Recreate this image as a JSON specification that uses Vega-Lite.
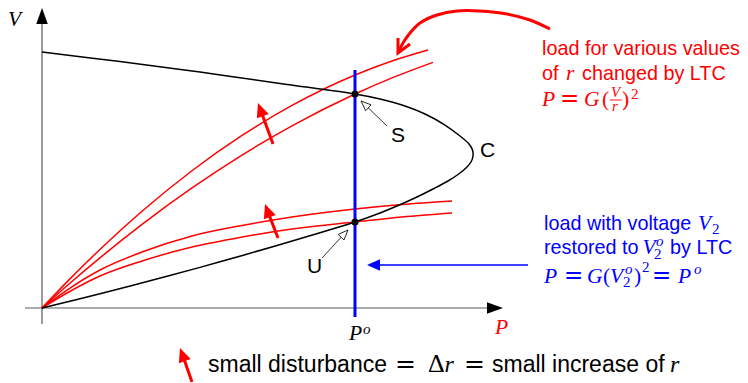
{
  "$schema": "https://vega.github.io/schema/vega-lite/v6.json",
  "width": 748,
  "height": 383,
  "autosize": "none",
  "padding": 0,
  "background": "white",
  "config": {"view": {"stroke": null}},
  "datasets": {
    "pv": [
      {"curve": "C", "tone": "ink", "k": 0, "P": 0, "V": 1},
      {"curve": "C", "tone": "ink", "k": 1, "P": 0.2492, "V": 0.9625},
      {"curve": "C", "tone": "ink", "k": 2, "P": 0.5048, "V": 0.9215},
      {"curve": "C", "tone": "ink", "k": 3, "P": 0.7604, "V": 0.877},
      {"curve": "C", "tone": "ink", "k": 4, "P": 1, "V": 0.8359},
      {"curve": "C", "tone": "ink", "k": 5, "P": 1.0799, "V": 0.8164},
      {"curve": "C", "tone": "ink", "k": 6, "P": 1.1597, "V": 0.7891},
      {"curve": "C", "tone": "ink", "k": 7, "P": 1.2236, "V": 0.7578},
      {"curve": "C", "tone": "ink", "k": 8, "P": 1.2875, "V": 0.7148},
      {"curve": "C", "tone": "ink", "k": 9, "P": 1.3355, "V": 0.6719},
      {"curve": "C", "tone": "ink", "k": 10, "P": 1.3642, "V": 0.6406},
      {"curve": "C", "tone": "ink", "k": 11, "P": 1.3754, "V": 0.6172},
      {"curve": "C", "tone": "ink", "k": 12, "P": 1.377, "V": 0.5938},
      {"curve": "C", "tone": "ink", "k": 13, "P": 1.3706, "V": 0.5703},
      {"curve": "C", "tone": "ink", "k": 14, "P": 1.3546, "V": 0.5469},
      {"curve": "C", "tone": "ink", "k": 15, "P": 1.3291, "V": 0.5215},
      {"curve": "C", "tone": "ink", "k": 16, "P": 1.2971, "V": 0.4961},
      {"curve": "C", "tone": "ink", "k": 17, "P": 1.2492, "V": 0.4648},
      {"curve": "C", "tone": "ink", "k": 18, "P": 1.2013, "V": 0.4355},
      {"curve": "C", "tone": "ink", "k": 19, "P": 1.1597, "V": 0.4121},
      {"curve": "C", "tone": "ink", "k": 20, "P": 1.0799, "V": 0.3711},
      {"curve": "C", "tone": "ink", "k": 21, "P": 1, "V": 0.3359},
      {"curve": "C", "tone": "ink", "k": 22, "P": 0.8882, "V": 0.2941},
      {"curve": "C", "tone": "ink", "k": 23, "P": 0.7508, "V": 0.2441},
      {"curve": "C", "tone": "ink", "k": 24, "P": 0.5687, "V": 0.1805},
      {"curve": "C", "tone": "ink", "k": 25, "P": 0.3994, "V": 0.1238},
      {"curve": "C", "tone": "ink", "k": 26, "P": 0.1853, "V": 0.0559},
      {"curve": "C", "tone": "ink", "k": 27, "P": 0, "V": 0},

      {"curve": "S raised", "tone": "load", "k": 0, "P": 0, "V": 0},
      {"curve": "S raised", "tone": "load", "k": 1, "P": 0.0799, "V": 0.1021},
      {"curve": "S raised", "tone": "load", "k": 2, "P": 0.1917, "V": 0.2365},
      {"curve": "S raised", "tone": "load", "k": 3, "P": 0.3195, "V": 0.3779},
      {"curve": "S raised", "tone": "load", "k": 4, "P": 0.4792, "V": 0.5361},
      {"curve": "S raised", "tone": "load", "k": 5, "P": 0.639, "V": 0.674},
      {"curve": "S raised", "tone": "load", "k": 6, "P": 0.7987, "V": 0.7914},
      {"curve": "S raised", "tone": "load", "k": 7, "P": 1, "V": 0.9102},
      {"curve": "S raised", "tone": "load", "k": 8, "P": 1.1182, "V": 0.9648},
      {"curve": "S raised", "tone": "load", "k": 9, "P": 1.2332, "V": 1.0078},

      {"curve": "S", "tone": "load", "k": 0, "P": 0, "V": 0},
      {"curve": "S", "tone": "load", "k": 1, "P": 0.0799, "V": 0.0868},
      {"curve": "S", "tone": "load", "k": 2, "P": 0.1917, "V": 0.2025},
      {"curve": "S", "tone": "load", "k": 3, "P": 0.3195, "V": 0.3264},
      {"curve": "S", "tone": "load", "k": 4, "P": 0.4792, "V": 0.4688},
      {"curve": "S", "tone": "load", "k": 5, "P": 0.639, "V": 0.5973},
      {"curve": "S", "tone": "load", "k": 6, "P": 0.7987, "V": 0.7117},
      {"curve": "S", "tone": "load", "k": 7, "P": 1, "V": 0.8359},
      {"curve": "S", "tone": "load", "k": 8, "P": 1.1182, "V": 0.8988},
      {"curve": "S", "tone": "load", "k": 9, "P": 1.2492, "V": 0.9594},

      {"curve": "U raised", "tone": "load", "k": 0, "P": 0, "V": 0},
      {"curve": "U raised", "tone": "load", "k": 1, "P": 0.0799, "V": 0.0703},
      {"curve": "U raised", "tone": "load", "k": 2, "P": 0.1853, "V": 0.1484},
      {"curve": "U raised", "tone": "load", "k": 3, "P": 0.3195, "V": 0.2188},
      {"curve": "U raised", "tone": "load", "k": 4, "P": 0.4792, "V": 0.2813},
      {"curve": "U raised", "tone": "load", "k": 5, "P": 0.639, "V": 0.3223},
      {"curve": "U raised", "tone": "load", "k": 6, "P": 0.7987, "V": 0.3555},
      {"curve": "U raised", "tone": "load", "k": 7, "P": 1, "V": 0.3867},
      {"curve": "U raised", "tone": "load", "k": 8, "P": 1.1502, "V": 0.4043},
      {"curve": "U raised", "tone": "load", "k": 9, "P": 1.3099, "V": 0.418},

      {"curve": "U", "tone": "load", "k": 0, "P": 0, "V": 0},
      {"curve": "U", "tone": "load", "k": 1, "P": 0.0799, "V": 0.0586},
      {"curve": "U", "tone": "load", "k": 2, "P": 0.1853, "V": 0.125},
      {"curve": "U", "tone": "load", "k": 3, "P": 0.3195, "V": 0.1836},
      {"curve": "U", "tone": "load", "k": 4, "P": 0.4792, "V": 0.2383},
      {"curve": "U", "tone": "load", "k": 5, "P": 0.639, "V": 0.2773},
      {"curve": "U", "tone": "load", "k": 6, "P": 0.7987, "V": 0.3086},
      {"curve": "U", "tone": "load", "k": 7, "P": 1, "V": 0.3359},
      {"curve": "U", "tone": "load", "k": 8, "P": 1.1502, "V": 0.3555},
      {"curve": "U", "tone": "load", "k": 9, "P": 1.3099, "V": 0.3711}
    ],
    "ltcSwing": [
      {"k": 0, "P": 1.623, "V": 1.0898},
      {"k": 1, "P": 1.5591, "V": 1.125},
      {"k": 2, "P": 1.4856, "V": 1.1484},
      {"k": 3, "P": 1.3994, "V": 1.1602},
      {"k": 4, "P": 1.3259, "V": 1.1602},
      {"k": 5, "P": 1.262, "V": 1.1445},
      {"k": 6, "P": 1.2077, "V": 1.1133},
      {"k": 7, "P": 1.1757, "V": 1.0742},
      {"k": 8, "P": 1.1534, "V": 1.0352},
      {"k": 9, "P": 1.1374, "V": 0.9961}
    ],
    "guides": [
      {"item": "V axis", "P": 0, "V": -0.0625, "P2": 0, "V2": 1.12},
      {"item": "P axis", "P": -0.0543, "V": 0, "P2": 1.44, "V2": 0},
      {"item": "Po", "P": 1, "V": -0.0352, "P2": 1, "V2": 0.9297},
      {"item": "restored load", "P": 1.5527, "V": 0.168, "P2": 1.0607, "V2": 0.168},
      {"item": "nudge S", "P": 0.738, "V": 0.6406, "P2": 0.6978, "V2": 0.775},
      {"item": "nudge U", "P": 0.754, "V": 0.2734, "P2": 0.7201, "V2": 0.3805},
      {"item": "nudge key", "P": 0.4792, "V": -0.2891, "P2": 0.4486, "V2": -0.182},
      {"item": "pointer S", "P": 1.1022, "V": 0.7109, "P2": 1.031, "V2": 0.7953},
      {"item": "pointer U", "P": 0.8946, "V": 0.1953, "P2": 0.9665, "V2": 0.2906},
      {"item": "fraction", "P": 1.8147, "V": 0.8125, "P2": 1.853, "V2": 0.8125}
    ],
    "tips": [
      {"item": "V axis", "P": 0, "V": 1.1719},
      {"item": "P axis", "P": 1.4728, "V": 0},
      {"item": "restored load", "P": 1.0383, "V": 0.168},
      {"item": "nudge S", "P": 0.6901, "V": 0.8008},
      {"item": "nudge U", "P": 0.7125, "V": 0.4063},
      {"item": "nudge key", "P": 0.4409, "V": -0.1563},
      {"item": "pointer S", "P": 1.0192, "V": 0.8086},
      {"item": "pointer U", "P": 0.9776, "V": 0.3047},
      {"item": "ltc swing", "P": 1.1374, "V": 0.9961}
    ],
    "operating": [
      {"name": "S", "P": 1, "V": 0.8359},
      {"name": "U", "P": 1, "V": 0.3359}
    ],
    "prose": [
      {"text": "load for various values", "tone": "load", "P": 1.5974, "V": 0.9883},
      {"text": "of", "tone": "load", "P": 1.5974, "V": 0.8906},
      {"text": "changed by LTC", "tone": "load", "P": 1.7252, "V": 0.8906},
      {"text": "load with voltage", "tone": "ltc", "P": 1.6038, "V": 0.3047},
      {"text": "restored to", "tone": "ltc", "P": 1.6038, "V": 0.2109},
      {"text": "by LTC", "tone": "ltc", "P": 2.0064, "V": 0.2109}
    ],
    "pointLabels": [
      {"text": "S", "tone": "ink", "P": 1.115, "V": 0.6484},
      {"text": "C", "tone": "ink", "P": 1.3994, "V": 0.5898},
      {"text": "U", "tone": "ink", "P": 0.8466, "V": 0.1367}
    ],
    "caption": [
      {"text": "small disturbance", "tone": "ink", "P": 0.5304, "V": -0.25},
      {"text": "small increase of", "tone": "ink", "P": 1.4377, "V": -0.25}
    ],
    "symbols": [
      {"text": "V", "tone": "ink", "P": -0.1086, "V": 1.1016},
      {"text": "P", "tone": "load", "P": 1.4473, "V": -0.1016},
      {"text": "P", "tone": "ink", "P": 0.9808, "V": -0.125},
      {"text": "r", "tone": "load", "P": 1.6741, "V": 0.8906},
      {"text": "P", "tone": "load", "P": 1.5974, "V": 0.7891},
      {"text": "G", "tone": "load", "P": 1.7316, "V": 0.7891},
      {"text": "V", "tone": "ltc", "P": 2.0958, "V": 0.3047},
      {"text": "V", "tone": "ltc", "P": 1.9185, "V": 0.2109},
      {"text": "P", "tone": "ltc", "P": 1.6038, "V": 0.0977},
      {"text": "G", "tone": "ltc", "P": 1.7412, "V": 0.0977},
      {"text": "V", "tone": "ltc", "P": 1.8147, "V": 0.0977},
      {"text": "P", "tone": "ltc", "P": 2.0319, "V": 0.0977}
    ],
    "brackets": [
      {"text": "(", "tone": "load", "P": 1.7891, "V": 0.7891},
      {"text": ")", "tone": "load", "P": 1.853, "V": 0.7891},
      {"text": "(", "tone": "ltc", "P": 1.7923, "V": 0.0977},
      {"text": ")", "tone": "ltc", "P": 1.8914, "V": 0.0977}
    ],
    "relations": [
      {"text": "=", "tone": "load", "P": 1.655, "V": 0.7891},
      {"text": "=", "tone": "ltc", "P": 1.6677, "V": 0.0977},
      {"text": "=", "tone": "ltc", "P": 1.9489, "V": 0.0977}
    ],
    "scripts": [
      {"text": "o", "tone": "ink", "P": 1.0256, "V": -0.1016},
      {"text": "V", "tone": "load", "P": 1.8179, "V": 0.8242},
      {"text": "r", "tone": "load", "P": 1.8211, "V": 0.7695},
      {"text": "o", "tone": "ltc", "P": 1.9617, "V": 0.2422},
      {"text": "o", "tone": "ltc", "P": 1.8626, "V": 0.1328},
      {"text": "o", "tone": "ltc", "P": 2.0831, "V": 0.1328}
    ],
    "scriptDigits": [
      {"text": "2", "tone": "load", "P": 1.8818, "V": 0.8164},
      {"text": "2", "tone": "ltc", "P": 2.1406, "V": 0.2891},
      {"text": "2", "tone": "ltc", "P": 1.9553, "V": 0.1914},
      {"text": "2", "tone": "ltc", "P": 1.8562, "V": 0.082},
      {"text": "2", "tone": "ltc", "P": 1.9169, "V": 0.1406}
    ],
    "captionSymbols": [
      {"text": "r", "tone": "ink", "P": 1.2859, "V": -0.25},
      {"text": "r", "tone": "ink", "P": 2.0064, "V": -0.25}
    ],
    "captionDelta": [
      {"text": "Δ", "tone": "ink", "P": 1.2332, "V": -0.25}
    ],
    "captionRelations": [
      {"text": "=", "tone": "ink", "P": 1.1278, "V": -0.25},
      {"text": "=", "tone": "ink", "P": 1.3482, "V": -0.25}
    ]
  },
  "encoding": {
    "x": {"field": "P", "type": "quantitative", "scale": {"domain": [-0.13419, 2.25559], "nice": false, "zero": false}, "axis": null},
    "y": {"field": "V", "type": "quantitative", "scale": {"domain": [-0.29297, 1.203125], "nice": false, "zero": false}, "axis": null}
  },
  "layer": [
    {
      "data": {"name": "guides"},
      "transform": [{"filter": "datum.item === 'V axis' || datum.item === 'P axis'"}],
      "mark": {"type": "rule", "color": "#5a5a5a", "strokeWidth": 1.2},
      "encoding": {"x2": {"field": "P2"}, "y2": {"field": "V2"}}
    },
    {
      "data": {"name": "tips"},
      "transform": [{"filter": "datum.item === 'V axis'"}],
      "mark": {"type": "point", "shape": "M0,0L0.72,2L-0.72,2Z", "size": 256, "filled": true, "color": "#000", "opacity": 1, "angle": 0}
    },
    {
      "data": {"name": "tips"},
      "transform": [{"filter": "datum.item === 'P axis'"}],
      "mark": {"type": "point", "shape": "M0,0L0.72,2L-0.72,2Z", "size": 256, "filled": true, "color": "#000", "opacity": 1, "angle": 90}
    },
    {
      "data": {"name": "pv"},
      "transform": [{"filter": "datum.tone === 'load'"}],
      "mark": {"type": "line", "interpolate": "monotone", "strokeWidth": 1.5, "color": "#ff0000"},
      "encoding": {
        "detail": {"field": "curve"},
        "order": {"field": "k", "type": "quantitative"}
      }
    },
    {
      "data": {"name": "pv"},
      "transform": [{"filter": "datum.tone === 'ink'"}],
      "mark": {"type": "line", "interpolate": "catmull-rom", "strokeWidth": 1.5, "color": "#000000"},
      "encoding": {
        "order": {"field": "k", "type": "quantitative"}
      }
    },
    {
      "data": {"name": "guides"},
      "transform": [{"filter": "datum.item === 'Po'"}],
      "mark": {"type": "rule", "color": "#0000ff", "strokeWidth": 3},
      "encoding": {"x2": {"field": "P2"}, "y2": {"field": "V2"}}
    },
    {
      "data": {"name": "operating"},
      "mark": {"type": "point", "shape": "circle", "size": 50, "filled": true, "color": "#000", "opacity": 1}
    },
    {
      "data": {"name": "guides"},
      "transform": [{"filter": "datum.item === 'restored load'"}],
      "mark": {"type": "rule", "color": "#0000ff", "strokeWidth": 1.6},
      "encoding": {"x2": {"field": "P2"}, "y2": {"field": "V2"}}
    },
    {
      "data": {"name": "tips"},
      "transform": [{"filter": "datum.item === 'restored load'"}],
      "mark": {"type": "point", "shape": "M0,0L0.9,2L-0.9,2Z", "size": 169, "filled": true, "color": "#0000ff", "opacity": 1, "angle": 270}
    },
    {
      "data": {"name": "guides"},
      "transform": [{"filter": "indexof(datum.item, 'nudge') === 0"}],
      "mark": {"type": "rule", "color": "#ff0000", "strokeWidth": 3},
      "encoding": {"x2": {"field": "P2"}, "y2": {"field": "V2"}}
    },
    {
      "data": {"name": "tips"},
      "transform": [{"filter": "indexof(datum.item, 'nudge') === 0"}],
      "mark": {"type": "point", "shape": "M0,0L0.9,2L-0.9,2Z", "size": 196, "filled": true, "color": "#ff0000", "opacity": 1, "angle": 340}
    },
    {
      "data": {"name": "ltcSwing"},
      "mark": {"type": "line", "interpolate": "catmull-rom", "color": "#ff0000", "strokeWidth": 3},
      "encoding": {"order": {"field": "k", "type": "quantitative"}}
    },
    {
      "data": {"name": "tips"},
      "transform": [{"filter": "datum.item === 'ltc swing'"}],
      "mark": {"type": "point", "shape": "M-0.9,1.8L0,0L0.9,1.8", "size": 223, "filled": false, "color": "#ff0000", "strokeWidth": 3, "opacity": 1, "angle": 206.6}
    },
    {
      "data": {"name": "guides"},
      "transform": [{"filter": "indexof(datum.item, 'pointer') === 0"}],
      "mark": {"type": "rule", "color": "#000", "strokeWidth": 0.8},
      "encoding": {"x2": {"field": "P2"}, "y2": {"field": "V2"}}
    },
    {
      "data": {"name": "tips"},
      "transform": [{"filter": "datum.item === 'pointer S'"}],
      "mark": {"type": "point", "shape": "M0,0L0.8,2L-0.8,2Z", "size": 100, "filled": true, "fill": "#fff", "stroke": "#000", "strokeWidth": 0.8, "opacity": 1, "angle": 312.7}
    },
    {
      "data": {"name": "tips"},
      "transform": [{"filter": "datum.item === 'pointer U'"}],
      "mark": {"type": "point", "shape": "M0,0L0.8,2L-0.8,2Z", "size": 100, "filled": true, "fill": "#fff", "stroke": "#000", "strokeWidth": 0.8, "opacity": 1, "angle": 43.9}
    },
    {
      "data": {"name": "guides"},
      "transform": [{"filter": "datum.item === 'fraction'"}],
      "mark": {"type": "rule", "color": "#ff0000", "strokeWidth": 0.9},
      "encoding": {"x2": {"field": "P2"}, "y2": {"field": "V2"}}
    },
    {
      "data": {"name": "prose"},
      "mark": {"type": "text", "font": "Liberation Sans", "fontSize": 19.8, "align": "left", "baseline": "alphabetic"},
      "encoding": {
        "text": {"field": "text"},
        "color": {"field": "tone", "type": "nominal", "scale": {"domain": ["ink", "load", "ltc"], "range": ["#000000", "#ff0000", "#0000ff"]}, "legend": null}
      }
    },
    {
      "data": {"name": "pointLabels"},
      "mark": {"type": "text", "font": "Liberation Sans", "fontSize": 21, "align": "left", "baseline": "alphabetic"},
      "encoding": {
        "text": {"field": "text"},
        "color": {"field": "tone", "type": "nominal", "scale": {"domain": ["ink", "load", "ltc"], "range": ["#000000", "#ff0000", "#0000ff"]}, "legend": null}
      }
    },
    {
      "data": {"name": "caption"},
      "mark": {"type": "text", "font": "Liberation Sans", "fontSize": 23, "align": "left", "baseline": "alphabetic"},
      "encoding": {
        "text": {"field": "text"},
        "color": {"field": "tone", "type": "nominal", "scale": {"domain": ["ink", "load", "ltc"], "range": ["#000000", "#ff0000", "#0000ff"]}, "legend": null}
      }
    },
    {
      "data": {"name": "symbols"},
      "mark": {"type": "text", "font": "Liberation Serif", "fontStyle": "italic", "fontSize": 21.5, "align": "left", "baseline": "alphabetic"},
      "encoding": {
        "text": {"field": "text"},
        "color": {"field": "tone", "type": "nominal", "scale": {"domain": ["ink", "load", "ltc"], "range": ["#000000", "#ff0000", "#0000ff"]}, "legend": null}
      }
    },
    {
      "data": {"name": "brackets"},
      "mark": {"type": "text", "font": "Liberation Serif", "fontSize": 21.5, "align": "left", "baseline": "alphabetic"},
      "encoding": {
        "text": {"field": "text"},
        "color": {"field": "tone", "type": "nominal", "scale": {"domain": ["ink", "load", "ltc"], "range": ["#000000", "#ff0000", "#0000ff"]}, "legend": null}
      }
    },
    {
      "data": {"name": "relations"},
      "mark": {"type": "text", "font": "DejaVu Sans", "fontSize": 23, "align": "left", "baseline": "alphabetic"},
      "encoding": {
        "text": {"field": "text"},
        "color": {"field": "tone", "type": "nominal", "scale": {"domain": ["ink", "load", "ltc"], "range": ["#000000", "#ff0000", "#0000ff"]}, "legend": null}
      }
    },
    {
      "data": {"name": "scripts"},
      "mark": {"type": "text", "font": "Liberation Serif", "fontStyle": "italic", "fontSize": 15, "align": "left", "baseline": "alphabetic"},
      "encoding": {
        "text": {"field": "text"},
        "color": {"field": "tone", "type": "nominal", "scale": {"domain": ["ink", "load", "ltc"], "range": ["#000000", "#ff0000", "#0000ff"]}, "legend": null}
      }
    },
    {
      "data": {"name": "scriptDigits"},
      "mark": {"type": "text", "font": "Liberation Serif", "fontSize": 15, "align": "left", "baseline": "alphabetic"},
      "encoding": {
        "text": {"field": "text"},
        "color": {"field": "tone", "type": "nominal", "scale": {"domain": ["ink", "load", "ltc"], "range": ["#000000", "#ff0000", "#0000ff"]}, "legend": null}
      }
    },
    {
      "data": {"name": "captionSymbols"},
      "mark": {"type": "text", "font": "Liberation Serif", "fontStyle": "italic", "fontSize": 24, "align": "left", "baseline": "alphabetic"},
      "encoding": {
        "text": {"field": "text"},
        "color": {"field": "tone", "type": "nominal", "scale": {"domain": ["ink", "load", "ltc"], "range": ["#000000", "#ff0000", "#0000ff"]}, "legend": null}
      }
    },
    {
      "data": {"name": "captionDelta"},
      "mark": {"type": "text", "font": "Liberation Serif", "fontSize": 26, "align": "left", "baseline": "alphabetic"},
      "encoding": {
        "text": {"field": "text"},
        "color": {"field": "tone", "type": "nominal", "scale": {"domain": ["ink", "load", "ltc"], "range": ["#000000", "#ff0000", "#0000ff"]}, "legend": null}
      }
    },
    {
      "data": {"name": "captionRelations"},
      "mark": {"type": "text", "font": "DejaVu Sans", "fontSize": 25, "align": "left", "baseline": "alphabetic"},
      "encoding": {
        "text": {"field": "text"},
        "color": {"field": "tone", "type": "nominal", "scale": {"domain": ["ink", "load", "ltc"], "range": ["#000000", "#ff0000", "#0000ff"]}, "legend": null}
      }
    }
  ]
}
